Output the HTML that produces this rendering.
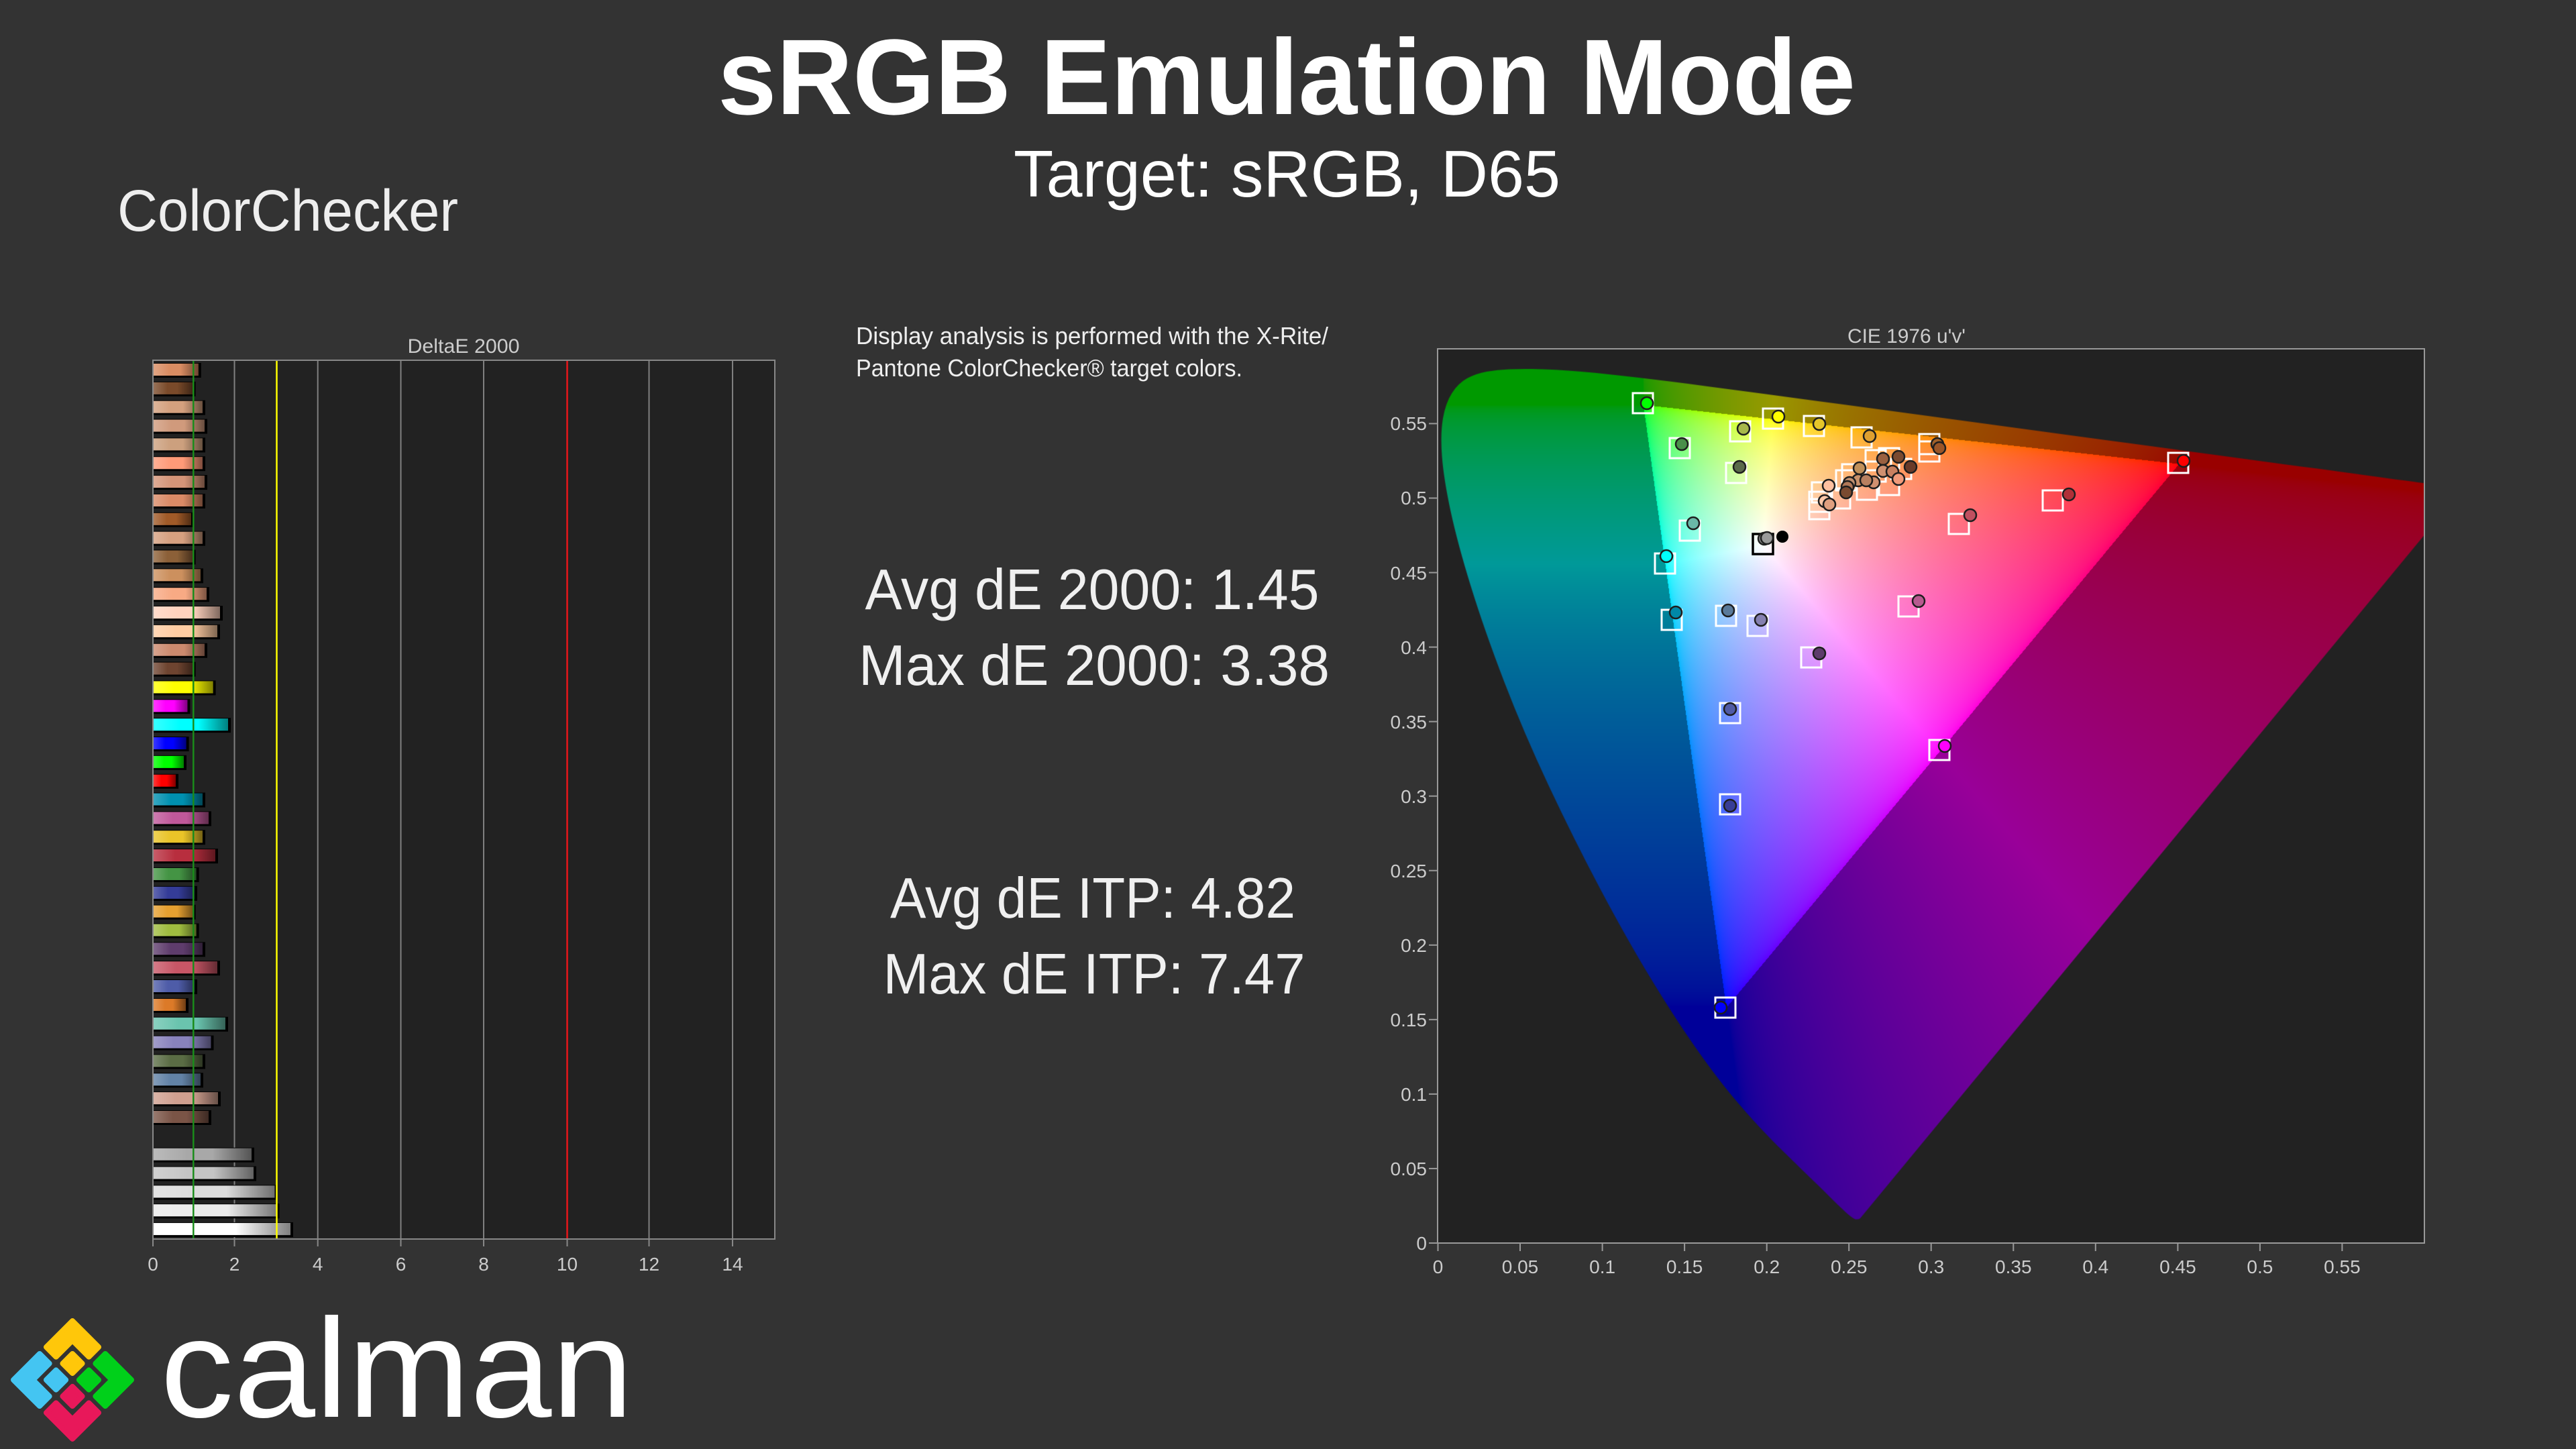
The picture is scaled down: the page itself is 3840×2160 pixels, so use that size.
<!DOCTYPE html>
<html><head><meta charset="utf-8">
<style>
html,body{margin:0;padding:0;background:#333333;width:3840px;height:2160px;overflow:hidden;}
svg,canvas{position:absolute;display:block;}
text{font-family:"Liberation Sans",sans-serif;}
</style></head><body>
<svg id="bg" width="3840" height="2160" style="left:0;top:0" xmlns="http://www.w3.org/2000/svg">
<defs>
<linearGradient id="shade" x1="0" y1="0" x2="1" y2="0">
<stop offset="0" stop-color="#fff" stop-opacity="0.22"/>
<stop offset="0.35" stop-color="#fff" stop-opacity="0"/>
<stop offset="0.6" stop-color="#000" stop-opacity="0"/>
<stop offset="1" stop-color="#000" stop-opacity="0.5"/>
</linearGradient>
</defs>
<rect width="3840" height="2160" fill="#333333"/>

<!-- Titles -->
<text x="1070" y="170" font-size="160" font-weight="bold" fill="#ffffff" textLength="1696" lengthAdjust="spacingAndGlyphs">sRGB Emulation Mode</text>
<text x="1511" y="293" font-size="98" fill="#ffffff" textLength="815" lengthAdjust="spacingAndGlyphs">Target: sRGB, D65</text>
<text x="175" y="344" font-size="87" fill="#eeeeee" textLength="508" lengthAdjust="spacingAndGlyphs">ColorChecker</text>

<!-- Text panel -->
<text x="1276" y="513" font-size="36" fill="#eeeeee" textLength="704" lengthAdjust="spacingAndGlyphs">Display analysis is performed with the X-Rite/</text>
<text x="1276" y="561" font-size="36" fill="#eeeeee" textLength="576" lengthAdjust="spacingAndGlyphs">Pantone ColorChecker® target colors.</text>
<text x="1289.5" y="908" font-size="85" fill="#f0f0f0" textLength="677" lengthAdjust="spacingAndGlyphs">Avg dE 2000: 1.45</text>
<text x="1280" y="1021" font-size="85" fill="#f0f0f0" textLength="702" lengthAdjust="spacingAndGlyphs">Max dE 2000: 3.38</text>
<text x="1327" y="1368" font-size="85" fill="#f0f0f0" textLength="604" lengthAdjust="spacingAndGlyphs">Avg dE ITP: 4.82</text>
<text x="1316.5" y="1481" font-size="85" fill="#f0f0f0" textLength="629" lengthAdjust="spacingAndGlyphs">Max dE ITP: 7.47</text>

<!-- Bar chart -->
<text x="607.5" y="526" font-size="30" fill="#cccccc" textLength="167" lengthAdjust="spacingAndGlyphs">DeltaE 2000</text>
<rect x="228" y="537" width="927" height="1310" fill="#222222"/>
<g stroke="#808080" stroke-width="2">
<line x1="349.5" y1="537" x2="349.5" y2="1847"/>
<line x1="473.7" y1="537" x2="473.7" y2="1847"/>
<line x1="597.5" y1="537" x2="597.5" y2="1847"/>
<line x1="721" y1="537" x2="721" y2="1847"/>
<line x1="967.5" y1="537" x2="967.5" y2="1847"/>
<line x1="1092" y1="537" x2="1092" y2="1847"/>
</g>
<g>
<g transform="translate(0,551)"><rect x="229" y="-10" width="70.75" height="22" fill="#000"/><rect x="229" y="-9" width="66.75" height="18" fill="#D98C62"/><rect x="229" y="-9" width="66.75" height="18" fill="url(#shade)"/></g>
<g transform="translate(0,578.85)"><rect x="229" y="-10" width="62.6" height="22" fill="#000"/><rect x="229" y="-9" width="58.6" height="18" fill="#7A4A2A"/><rect x="229" y="-9" width="58.6" height="18" fill="url(#shade)"/></g>
<g transform="translate(0,606.7)"><rect x="229" y="-10" width="77" height="22" fill="#000"/><rect x="229" y="-9" width="73" height="18" fill="#D4A07E"/><rect x="229" y="-9" width="73" height="18" fill="url(#shade)"/></g>
<g transform="translate(0,634.55)"><rect x="229" y="-10" width="80" height="22" fill="#000"/><rect x="229" y="-9" width="76" height="18" fill="#D09A7C"/><rect x="229" y="-9" width="76" height="18" fill="url(#shade)"/></g>
<g transform="translate(0,662.4)"><rect x="229" y="-10" width="77" height="22" fill="#000"/><rect x="229" y="-9" width="73" height="18" fill="#CCA07E"/><rect x="229" y="-9" width="73" height="18" fill="url(#shade)"/></g>
<g transform="translate(0,690.25)"><rect x="229" y="-10" width="77" height="22" fill="#000"/><rect x="229" y="-9" width="73" height="18" fill="#FF9A78"/><rect x="229" y="-9" width="73" height="18" fill="url(#shade)"/></g>
<g transform="translate(0,718.1)"><rect x="229" y="-10" width="80" height="22" fill="#000"/><rect x="229" y="-9" width="76" height="18" fill="#D49478"/><rect x="229" y="-9" width="76" height="18" fill="url(#shade)"/></g>
<g transform="translate(0,745.95)"><rect x="229" y="-10" width="77" height="22" fill="#000"/><rect x="229" y="-9" width="73" height="18" fill="#DA8A66"/><rect x="229" y="-9" width="73" height="18" fill="url(#shade)"/></g>
<g transform="translate(0,773.8)"><rect x="229" y="-10" width="60" height="22" fill="#000"/><rect x="229" y="-9" width="56" height="18" fill="#A05A28"/><rect x="229" y="-9" width="56" height="18" fill="url(#shade)"/></g>
<g transform="translate(0,801.65)"><rect x="229" y="-10" width="77" height="22" fill="#000"/><rect x="229" y="-9" width="73" height="18" fill="#D6A080"/><rect x="229" y="-9" width="73" height="18" fill="url(#shade)"/></g>
<g transform="translate(0,829.5)"><rect x="229" y="-10" width="62.6" height="22" fill="#000"/><rect x="229" y="-9" width="58.6" height="18" fill="#8C6038"/><rect x="229" y="-9" width="58.6" height="18" fill="url(#shade)"/></g>
<g transform="translate(0,857.35)"><rect x="229" y="-10" width="74" height="22" fill="#000"/><rect x="229" y="-9" width="70" height="18" fill="#CC905E"/><rect x="229" y="-9" width="70" height="18" fill="url(#shade)"/></g>
<g transform="translate(0,885.2)"><rect x="229" y="-10" width="83" height="22" fill="#000"/><rect x="229" y="-9" width="79" height="18" fill="#F8AA84"/><rect x="229" y="-9" width="79" height="18" fill="url(#shade)"/></g>
<g transform="translate(0,913.05)"><rect x="229" y="-10" width="103" height="22" fill="#000"/><rect x="229" y="-9" width="99" height="18" fill="#FFD2BE"/><rect x="229" y="-9" width="99" height="18" fill="url(#shade)"/></g>
<g transform="translate(0,940.9)"><rect x="229" y="-10" width="99" height="22" fill="#000"/><rect x="229" y="-9" width="95" height="18" fill="#FFCCA2"/><rect x="229" y="-9" width="95" height="18" fill="url(#shade)"/></g>
<g transform="translate(0,968.75)"><rect x="229" y="-10" width="80" height="22" fill="#000"/><rect x="229" y="-9" width="76" height="18" fill="#CC8A6E"/><rect x="229" y="-9" width="76" height="18" fill="url(#shade)"/></g>
<g transform="translate(0,996.6)"><rect x="229" y="-10" width="62.6" height="22" fill="#000"/><rect x="229" y="-9" width="58.6" height="18" fill="#6E4430"/><rect x="229" y="-9" width="58.6" height="18" fill="url(#shade)"/></g>
<g transform="translate(0,1024.45)"><rect x="229" y="-10" width="92.6" height="22" fill="#000"/><rect x="229" y="-9" width="88.6" height="18" fill="#FFFF00"/><rect x="229" y="-9" width="88.6" height="18" fill="url(#shade)"/></g>
<g transform="translate(0,1052.3)"><rect x="229" y="-10" width="54.5" height="22" fill="#000"/><rect x="229" y="-9" width="50.5" height="18" fill="#FF00FF"/><rect x="229" y="-9" width="50.5" height="18" fill="url(#shade)"/></g>
<g transform="translate(0,1080.15)"><rect x="229" y="-10" width="115" height="22" fill="#000"/><rect x="229" y="-9" width="111" height="18" fill="#00FFFF"/><rect x="229" y="-9" width="111" height="18" fill="url(#shade)"/></g>
<g transform="translate(0,1108)"><rect x="229" y="-10" width="52.6" height="22" fill="#000"/><rect x="229" y="-9" width="48.6" height="18" fill="#0000FF"/><rect x="229" y="-9" width="48.6" height="18" fill="url(#shade)"/></g>
<g transform="translate(0,1135.85)"><rect x="229" y="-10" width="49" height="22" fill="#000"/><rect x="229" y="-9" width="45" height="18" fill="#00FF00"/><rect x="229" y="-9" width="45" height="18" fill="url(#shade)"/></g>
<g transform="translate(0,1163.7)"><rect x="229" y="-10" width="37" height="22" fill="#000"/><rect x="229" y="-9" width="33" height="18" fill="#FF0000"/><rect x="229" y="-9" width="33" height="18" fill="url(#shade)"/></g>
<g transform="translate(0,1191.55)"><rect x="229" y="-10" width="77" height="22" fill="#000"/><rect x="229" y="-9" width="73" height="18" fill="#0090B0"/><rect x="229" y="-9" width="73" height="18" fill="url(#shade)"/></g>
<g transform="translate(0,1219.4)"><rect x="229" y="-10" width="86" height="22" fill="#000"/><rect x="229" y="-9" width="82" height="18" fill="#C0589A"/><rect x="229" y="-9" width="82" height="18" fill="url(#shade)"/></g>
<g transform="translate(0,1247.25)"><rect x="229" y="-10" width="77" height="22" fill="#000"/><rect x="229" y="-9" width="73" height="18" fill="#EAC428"/><rect x="229" y="-9" width="73" height="18" fill="url(#shade)"/></g>
<g transform="translate(0,1275.1)"><rect x="229" y="-10" width="96" height="22" fill="#000"/><rect x="229" y="-9" width="92" height="18" fill="#B82E3E"/><rect x="229" y="-9" width="92" height="18" fill="url(#shade)"/></g>
<g transform="translate(0,1302.95)"><rect x="229" y="-10" width="67.6" height="22" fill="#000"/><rect x="229" y="-9" width="63.6" height="18" fill="#449444"/><rect x="229" y="-9" width="63.6" height="18" fill="url(#shade)"/></g>
<g transform="translate(0,1330.8)"><rect x="229" y="-10" width="65" height="22" fill="#000"/><rect x="229" y="-9" width="61" height="18" fill="#343C98"/><rect x="229" y="-9" width="61" height="18" fill="url(#shade)"/></g>
<g transform="translate(0,1358.65)"><rect x="229" y="-10" width="62.6" height="22" fill="#000"/><rect x="229" y="-9" width="58.6" height="18" fill="#E6A030"/><rect x="229" y="-9" width="58.6" height="18" fill="url(#shade)"/></g>
<g transform="translate(0,1386.5)"><rect x="229" y="-10" width="67.6" height="22" fill="#000"/><rect x="229" y="-9" width="63.6" height="18" fill="#A0BC40"/><rect x="229" y="-9" width="63.6" height="18" fill="url(#shade)"/></g>
<g transform="translate(0,1414.35)"><rect x="229" y="-10" width="77" height="22" fill="#000"/><rect x="229" y="-9" width="73" height="18" fill="#5E3C6C"/><rect x="229" y="-9" width="73" height="18" fill="url(#shade)"/></g>
<g transform="translate(0,1442.2)"><rect x="229" y="-10" width="99" height="22" fill="#000"/><rect x="229" y="-9" width="95" height="18" fill="#C85666"/><rect x="229" y="-9" width="95" height="18" fill="url(#shade)"/></g>
<g transform="translate(0,1470.05)"><rect x="229" y="-10" width="65" height="22" fill="#000"/><rect x="229" y="-9" width="61" height="18" fill="#4E5CA8"/><rect x="229" y="-9" width="61" height="18" fill="url(#shade)"/></g>
<g transform="translate(0,1497.9)"><rect x="229" y="-10" width="52" height="22" fill="#000"/><rect x="229" y="-9" width="48" height="18" fill="#DC7A28"/><rect x="229" y="-9" width="48" height="18" fill="url(#shade)"/></g>
<g transform="translate(0,1525.75)"><rect x="229" y="-10" width="111" height="22" fill="#000"/><rect x="229" y="-9" width="107" height="18" fill="#6AC4AE"/><rect x="229" y="-9" width="107" height="18" fill="url(#shade)"/></g>
<g transform="translate(0,1553.6)"><rect x="229" y="-10" width="89.5" height="22" fill="#000"/><rect x="229" y="-9" width="85.5" height="18" fill="#8882BC"/><rect x="229" y="-9" width="85.5" height="18" fill="url(#shade)"/></g>
<g transform="translate(0,1581.45)"><rect x="229" y="-10" width="77" height="22" fill="#000"/><rect x="229" y="-9" width="73" height="18" fill="#5A6C44"/><rect x="229" y="-9" width="73" height="18" fill="url(#shade)"/></g>
<g transform="translate(0,1609.3)"><rect x="229" y="-10" width="74" height="22" fill="#000"/><rect x="229" y="-9" width="70" height="18" fill="#6282A6"/><rect x="229" y="-9" width="70" height="18" fill="url(#shade)"/></g>
<g transform="translate(0,1637.15)"><rect x="229" y="-10" width="100" height="22" fill="#000"/><rect x="229" y="-9" width="96" height="18" fill="#D0A090"/><rect x="229" y="-9" width="96" height="18" fill="url(#shade)"/></g>
<g transform="translate(0,1665)"><rect x="229" y="-10" width="86" height="22" fill="#000"/><rect x="229" y="-9" width="82" height="18" fill="#7A5446"/><rect x="229" y="-9" width="82" height="18" fill="url(#shade)"/></g>
<g transform="translate(0,1720.7)"><rect x="229" y="-10" width="150" height="22" fill="#000"/><rect x="229" y="-9" width="146" height="18" fill="#A8A8A8"/><rect x="229" y="-9" width="146" height="18" fill="url(#shade)"/></g>
<g transform="translate(0,1748.55)"><rect x="229" y="-10" width="153" height="22" fill="#000"/><rect x="229" y="-9" width="149" height="18" fill="#C4C4C4"/><rect x="229" y="-9" width="149" height="18" fill="url(#shade)"/></g>
<g transform="translate(0,1776.4)"><rect x="229" y="-10" width="184.5" height="22" fill="#000"/><rect x="229" y="-9" width="180.5" height="18" fill="#DCDCDC"/><rect x="229" y="-9" width="180.5" height="18" fill="url(#shade)"/></g>
<g transform="translate(0,1804.25)"><rect x="229" y="-10" width="187.6" height="22" fill="#000"/><rect x="229" y="-9" width="183.6" height="18" fill="#EBEBEB"/><rect x="229" y="-9" width="183.6" height="18" fill="url(#shade)"/></g>
<g transform="translate(0,1832.1)"><rect x="229" y="-10" width="208" height="22" fill="#000"/><rect x="229" y="-9" width="204" height="18" fill="#FFFFFF"/><rect x="229" y="-9" width="204" height="18" fill="url(#shade)"/></g>
</g>
<line x1="288.3" y1="537" x2="288.3" y2="1847" stroke="#1A8C1A" stroke-width="2.5"/>
<line x1="412.5" y1="537" x2="412.5" y2="1847" stroke="#FFFF00" stroke-width="2.5"/>
<line x1="845.5" y1="537" x2="845.5" y2="1847" stroke="#E8161A" stroke-width="2.5"/>
<rect x="228" y="537" width="927" height="1310" fill="none" stroke="#888888" stroke-width="2"/>
<g stroke="#888888" stroke-width="2">
<line x1="228" y1="1847" x2="228" y2="1858"/>
<line x1="349.5" y1="1847" x2="349.5" y2="1858"/>
<line x1="473.7" y1="1847" x2="473.7" y2="1858"/>
<line x1="597.5" y1="1847" x2="597.5" y2="1858"/>
<line x1="721" y1="1847" x2="721" y2="1858"/>
<line x1="845.5" y1="1847" x2="845.5" y2="1858"/>
<line x1="967.5" y1="1847" x2="967.5" y2="1858"/>
<line x1="1092" y1="1847" x2="1092" y2="1858"/>
</g>
<g font-size="28" fill="#cccccc" text-anchor="middle">
<text x="228" y="1894">0</text>
<text x="349.5" y="1894">2</text>
<text x="473.7" y="1894">4</text>
<text x="597.5" y="1894">6</text>
<text x="721" y="1894">8</text>
<text x="845.5" y="1894">10</text>
<text x="967.5" y="1894">12</text>
<text x="1092" y="1894">14</text>
</g>

<!-- CIE chart background & axes -->
<text x="2754" y="511" font-size="30" fill="#cccccc" textLength="176" lengthAdjust="spacingAndGlyphs">CIE 1976 u'v'</text>
<rect x="2143" y="520" width="1471" height="1333" fill="#222222"/>
<g stroke="#999999" stroke-width="2">
<line x1="2130" y1="1853" x2="2143" y2="1853"/>
<line x1="2130" y1="1741.95" x2="2143" y2="1741.95"/>
<line x1="2130" y1="1630.9" x2="2143" y2="1630.9"/>
<line x1="2130" y1="1519.85" x2="2143" y2="1519.85"/>
<line x1="2130" y1="1408.8" x2="2143" y2="1408.8"/>
<line x1="2130" y1="1297.75" x2="2143" y2="1297.75"/>
<line x1="2130" y1="1186.7" x2="2143" y2="1186.7"/>
<line x1="2130" y1="1075.65" x2="2143" y2="1075.65"/>
<line x1="2130" y1="964.6" x2="2143" y2="964.6"/>
<line x1="2130" y1="853.55" x2="2143" y2="853.55"/>
<line x1="2130" y1="742.5" x2="2143" y2="742.5"/>
<line x1="2130" y1="631.45" x2="2143" y2="631.45"/>
<line x1="2143.5" y1="1853" x2="2143.5" y2="1865"/>
<line x1="2266" y1="1853" x2="2266" y2="1865"/>
<line x1="2388.6" y1="1853" x2="2388.6" y2="1865"/>
<line x1="2511.1" y1="1853" x2="2511.1" y2="1865"/>
<line x1="2633.7" y1="1853" x2="2633.7" y2="1865"/>
<line x1="2756.2" y1="1853" x2="2756.2" y2="1865"/>
<line x1="2878.7" y1="1853" x2="2878.7" y2="1865"/>
<line x1="3001.3" y1="1853" x2="3001.3" y2="1865"/>
<line x1="3123.8" y1="1853" x2="3123.8" y2="1865"/>
<line x1="3246.4" y1="1853" x2="3246.4" y2="1865"/>
<line x1="3368.9" y1="1853" x2="3368.9" y2="1865"/>
<line x1="3491.4" y1="1853" x2="3491.4" y2="1865"/>
</g>
<g font-size="28" fill="#cccccc" text-anchor="end">
<text x="2127" y="1863">0</text>
<text x="2127" y="1752">0.05</text>
<text x="2127" y="1641">0.1</text>
<text x="2127" y="1530">0.15</text>
<text x="2127" y="1419">0.2</text>
<text x="2127" y="1308">0.25</text>
<text x="2127" y="1197">0.3</text>
<text x="2127" y="1086">0.35</text>
<text x="2127" y="975">0.4</text>
<text x="2127" y="864">0.45</text>
<text x="2127" y="752">0.5</text>
<text x="2127" y="641">0.55</text>
</g>
<g font-size="28" fill="#cccccc" text-anchor="middle">
<text x="2143.5" y="1898">0</text>
<text x="2266" y="1898">0.05</text>
<text x="2388.6" y="1898">0.1</text>
<text x="2511.1" y="1898">0.15</text>
<text x="2633.7" y="1898">0.2</text>
<text x="2756.2" y="1898">0.25</text>
<text x="2878.7" y="1898">0.3</text>
<text x="3001.3" y="1898">0.35</text>
<text x="3123.8" y="1898">0.4</text>
<text x="3246.4" y="1898">0.45</text>
<text x="3368.9" y="1898">0.5</text>
<text x="3491.4" y="1898">0.55</text>
</g>

<!-- Logo -->
<g transform="translate(108,2057) rotate(45)" stroke-linejoin="round" stroke-width="8">
<polygon points="-62.2,-62.2 -7,-62.2 -7,-41.6 -41.6,-41.6 -41.6,-7 -62.2,-7" fill="#FFC70A" stroke="#FFC70A"/>
<polygon points="7,-62.2 62.2,-62.2 62.2,-7 41.6,-7 41.6,-41.6 7,-41.6" fill="#00D01A" stroke="#00D01A"/>
<polygon points="-62.2,7 -41.6,7 -41.6,41.6 -7,41.6 -7,62.2 -62.2,62.2" fill="#44C5F2" stroke="#44C5F2"/>
<polygon points="41.6,7 62.2,7 62.2,62.2 7,62.2 7,41.6 41.6,41.6" fill="#E8185A" stroke="#E8185A"/>
<rect x="-27.6" y="-27.6" width="20.6" height="20.6" fill="#FFC70A" stroke="#FFC70A"/>
<rect x="7" y="-27.6" width="20.6" height="20.6" fill="#00D01A" stroke="#00D01A"/>
<rect x="-27.6" y="7" width="20.6" height="20.6" fill="#44C5F2" stroke="#44C5F2"/>
<rect x="7" y="7" width="20.6" height="20.6" fill="#E8185A" stroke="#E8185A"/>
</g>
<text x="239" y="2112" font-size="210" fill="#ffffff" textLength="705" lengthAdjust="spacingAndGlyphs">calman</text>
</svg>

<canvas id="cie" width="1471" height="1333" style="left:2143px;top:520px"></canvas>

<svg id="fg" width="3840" height="2160" style="left:0;top:0" xmlns="http://www.w3.org/2000/svg">
<rect x="2143" y="520" width="1471" height="1333" fill="none" stroke="#999999" stroke-width="2"/>
<g fill="none" stroke="#ffffff" stroke-width="3">
<rect x="2434" y="586" width="30" height="30"/>
<rect x="2489" y="653" width="30" height="30"/>
<rect x="2579" y="628" width="30" height="30"/>
<rect x="2628" y="609" width="30" height="30"/>
<rect x="2689" y="620" width="30" height="30"/>
<rect x="2760" y="637" width="30" height="30"/>
<rect x="2861" y="647" width="30" height="30"/>
<rect x="2861" y="658" width="30" height="30"/>
<rect x="2573" y="690" width="30" height="30"/>
<rect x="2504" y="776" width="30" height="30"/>
<rect x="2467" y="825" width="30" height="30"/>
<rect x="2477" y="909" width="30" height="30"/>
<rect x="2558" y="903" width="30" height="30"/>
<rect x="2605" y="918" width="30" height="30"/>
<rect x="2685" y="965" width="30" height="30"/>
<rect x="2830" y="889" width="30" height="30"/>
<rect x="2905" y="766" width="30" height="30"/>
<rect x="2564" y="1048" width="30" height="30"/>
<rect x="2564" y="1184" width="30" height="30"/>
<rect x="2876" y="1103" width="30" height="30"/>
<rect x="2557" y="1487" width="30" height="30"/>
<rect x="3232" y="675" width="30" height="30"/>
<rect x="3045" y="731" width="30" height="30"/>
<rect x="2781" y="671" width="30" height="30"/>
<rect x="2801" y="668" width="30" height="30"/>
<rect x="2819" y="684" width="30" height="30"/>
<rect x="2746" y="692" width="30" height="30"/>
<rect x="2801" y="708" width="30" height="30"/>
<rect x="2768" y="715" width="30" height="30"/>
<rect x="2728" y="728" width="30" height="30"/>
<rect x="2701" y="719" width="30" height="30"/>
<rect x="2697" y="744" width="30" height="30"/>
<rect x="2737" y="701" width="30" height="30"/>
<rect x="2781" y="688" width="30" height="30"/>
<rect x="2697" y="733" width="30" height="30"/>
</g>
<rect x="2613" y="796" width="30" height="30" fill="none" stroke="#000000" stroke-width="3.5"/>
<g stroke="#1e1e1e" stroke-width="2.5">
<circle cx="2455" cy="601" r="9" fill="#00FF00"/>
<circle cx="2507" cy="662" r="9" fill="#4A8F4A"/>
<circle cx="2599" cy="639" r="9" fill="#A8B84A"/>
<circle cx="2651" cy="621" r="9" fill="#FFFF00"/>
<circle cx="2712" cy="632" r="9" fill="#E6C62A"/>
<circle cx="2787" cy="650" r="9" fill="#E0A030"/>
<circle cx="2888" cy="662" r="9" fill="#A0602A"/>
<circle cx="2891" cy="668" r="9" fill="#9A5528"/>
<circle cx="2593" cy="696" r="9" fill="#5A6A4A"/>
<circle cx="2524" cy="780" r="9" fill="#6AB8A8"/>
<circle cx="2484" cy="829" r="9" fill="#00FFFF"/>
<circle cx="2630" cy="803" r="9" fill="#888888"/>
<circle cx="2634" cy="802" r="9" fill="#9A9A9A"/>
<circle cx="2498" cy="913" r="9" fill="#0088A8"/>
<circle cx="2576" cy="910" r="9" fill="#5A7A9A"/>
<circle cx="2625" cy="924" r="9" fill="#8580B0"/>
<circle cx="2712" cy="974" r="9" fill="#5E3C6C"/>
<circle cx="2860" cy="896" r="9" fill="#B85A90"/>
<circle cx="2937" cy="768" r="9" fill="#C05060"/>
<circle cx="2579" cy="1057" r="9" fill="#505BA6"/>
<circle cx="2579" cy="1201" r="9" fill="#383D96"/>
<circle cx="2899" cy="1112" r="9" fill="#FF00FF"/>
<circle cx="2565" cy="1502" r="9" fill="#0000FF"/>
<circle cx="3255" cy="687" r="9" fill="#FF0000"/>
<circle cx="3084" cy="737" r="9" fill="#B03038"/>
<circle cx="2807" cy="684" r="9" fill="#9A6040"/>
<circle cx="2830" cy="681" r="9" fill="#7A4A30"/>
<circle cx="2848" cy="696" r="9" fill="#6A3A28"/>
<circle cx="2807" cy="702" r="9" fill="#D09070"/>
<circle cx="2821" cy="703" r="9" fill="#C88060"/>
<circle cx="2830" cy="714" r="9" fill="#F09A7A"/>
<circle cx="2793" cy="719" r="9" fill="#D09070"/>
<circle cx="2772" cy="698" r="9" fill="#C0905A"/>
<circle cx="2770" cy="716" r="9" fill="#C8906A"/>
<circle cx="2782" cy="716" r="9" fill="#B88060"/>
<circle cx="2757" cy="720" r="9" fill="#C09070"/>
<circle cx="2754" cy="726" r="9" fill="#B07858"/>
<circle cx="2752" cy="734" r="9" fill="#7A4A30"/>
<circle cx="2726" cy="724" r="9" fill="#FFC0A0"/>
<circle cx="2720" cy="747" r="9" fill="#FFC8A8"/>
<circle cx="2727" cy="752" r="9" fill="#E0A080"/>
</g>
<circle cx="2657" cy="800" r="9" fill="#000000"/>
</svg>

<script>
(function(){
  var cv = document.getElementById('cie');
  if(!cv || !cv.getContext) return;
  var W = cv.width, H = cv.height;
  var L = 2143, T = 520;
  var X0 = 2143.5, SX = 2450.8, Y0 = 1853, SY = 2221;
  var off = document.createElement('canvas'); off.width = W; off.height = H;
  var octx = off.getContext('2d');
  var img = octx.createImageData(W, H);
  var d = img.data;
  var LUT = new Float32Array(4097);
  for (var q = 0; q <= 4096; q++) {
    var c = q / 4096;
    LUT[q] = c <= 0.0031308 ? 12.92 * c : 1.055 * Math.pow(c, 1 / 2.4) - 0.055;
  }
  function gam(c){ return LUT[Math.round(c * 4096)]; }
  var res = [0,0,0,false];
  function col(u, v){
    var den = 6 * u - 16 * v + 12;
    var x = 9 * u / den, y = 4 * v / den;
    var X = x / y, Z = (1 - x - y) / y;
    var r = 3.2406 * X - 1.5372 - 0.4986 * Z;
    var g = -0.9689 * X + 1.8758 + 0.0415 * Z;
    var b = 0.0557 * X - 0.2040 + 1.0570 * Z;
    var out = (r < -1e-4 || g < -1e-4 || b < -1e-4);
    if (r < 0) r = 0; if (g < 0) g = 0; if (b < 0) b = 0;
    var m = Math.max(r, g, b); if (m <= 0) m = 1;
    res[0] = 255 * gam(r / m); res[1] = 255 * gam(g / m); res[2] = 255 * gam(b / m); res[3] = out;
  }
  var uG = 0.125, vG = 0.5625, uB = 0.175439, vB = 0.157895;
  for (var j = 0; j < H; j++) {
    var v = (Y0 - (T + j + 0.5)) / SY;
    var vc = Math.min(Math.max(v, vB + 1e-6), vG - 1e-6);
    var ue = uB + (vc - vB) / (vG - vB) * (uG - uB);
    col(ue, vc);
    var er = res[0] * 0.6, eg = res[1] * 0.6, eb = res[2] * 0.6;
    for (var i = 0; i < W; i++) {
      var k = (j * W + i) * 4;
      if (v <= 0.0005) { d[k + 3] = 0; continue; }
      var u = (L + i + 0.5 - X0) / SX;
      if (u < ue) {
        d[k] = er; d[k + 1] = eg; d[k + 2] = eb; d[k + 3] = 255;
        continue;
      }
      col(u, v);
      var f = res[3] ? 0.6 : 1;
      d[k] = res[0] * f; d[k + 1] = res[1] * f; d[k + 2] = res[2] * f; d[k + 3] = 255;
    }
  }
  octx.putImageData(img, 0, 0);
  var xy = [[0.1741,0.0050],[0.1740,0.0050],[0.1738,0.0049],[0.1736,0.0049],[0.1733,0.0048],[0.1730,0.0048],[0.1726,0.0048],[0.1721,0.0048],[0.1714,0.0051],[0.1703,0.0058],[0.1689,0.0069],[0.1669,0.0086],[0.1644,0.0109],[0.1611,0.0138],[0.1566,0.0177],[0.1510,0.0227],[0.1440,0.0297],[0.1355,0.0399],[0.1241,0.0578],[0.1096,0.0868],[0.0913,0.1327],[0.0687,0.2007],[0.0454,0.2950],[0.0235,0.4127],[0.0082,0.5384],[0.0039,0.6548],[0.0139,0.7502],[0.0389,0.8120],[0.0743,0.8338],[0.1142,0.8262],[0.1547,0.8059],[0.1929,0.7816],[0.2296,0.7543],[0.2658,0.7243],[0.3016,0.6923],[0.3373,0.6589],[0.3731,0.6245],[0.4087,0.5896],[0.4441,0.5547],[0.4788,0.5202],[0.5125,0.4866],[0.5448,0.4544],[0.5752,0.4242],[0.6029,0.3965],[0.6270,0.3725],[0.6482,0.3514],[0.6658,0.3340],[0.6801,0.3197],[0.6915,0.3083],[0.7006,0.2993],[0.7079,0.2920],[0.7140,0.2859],[0.7190,0.2809],[0.7230,0.2770],[0.7260,0.2740],[0.7283,0.2717],[0.7300,0.2700],[0.7311,0.2689],[0.7320,0.2680],[0.7334,0.2666],[0.7347,0.2653]];
  var pts = [];
  for (var n = 0; n < xy.length; n++) {
    var xx = xy[n][0], yy = xy[n][1];
    var dd = -2 * xx + 12 * yy + 3;
    var uu = 4 * xx / dd, vv = 9 * yy / dd;
    pts.push([X0 + uu * SX - L, Y0 - vv * SY - T]);
  }
  var ctx = cv.getContext('2d');
  ctx.save();
  ctx.beginPath();
  ctx.moveTo(pts[0][0], pts[0][1]);
  for (var p = 1; p < pts.length - 1; p++) {
    var mx = (pts[p][0] + pts[p + 1][0]) / 2, my = (pts[p][1] + pts[p + 1][1]) / 2;
    ctx.quadraticCurveTo(pts[p][0], pts[p][1], mx, my);
  }
  ctx.lineTo(pts[pts.length - 1][0], pts[pts.length - 1][1]);
  ctx.closePath();
  ctx.clip();
  ctx.drawImage(off, 0, 0);
  ctx.restore();
})();
</script>
</body></html>
